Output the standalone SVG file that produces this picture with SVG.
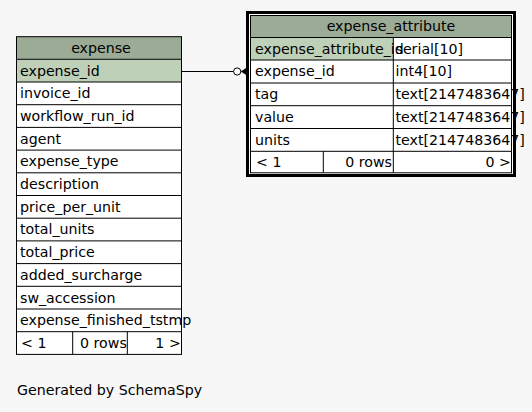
<svg xmlns="http://www.w3.org/2000/svg" width="532" height="412" viewBox="0 0 532 412">
<style>
text{font-family:"DejaVu Sans","Liberation Sans",sans-serif;font-size:14.2px;fill:#000}
.hd{fill:#9bab96}
.pk{fill:#bed1b8}
.wt{fill:#ffffff}
.ln{stroke:#000;stroke-width:1;fill:none}
.mid{text-anchor:middle}
.end{text-anchor:end}
</style>
<rect width="532" height="412" fill="#f7f7f7"/>
<g id="connectors">
<line x1="182" y1="71.5" x2="233.6" y2="71.5" stroke="#000" stroke-width="1"/>
<circle cx="237.2" cy="71.5" r="3.6" fill="#fff" stroke="#000" stroke-width="1"/>
<polygon points="241,71.5 246.5,67.8 246.5,75.2" fill="#000"/>
<line x1="240.8" y1="71.5" x2="247" y2="71.5" stroke="#000" stroke-width="1.2"/>
</g>
<g id="expense">
<rect class="hd" x="16.5" y="36.7" width="165" height="22.6"/>
<rect class="pk" x="16.5" y="59.3" width="165" height="22.7"/>
<rect class="wt" x="16.5" y="82" width="165" height="272.4"/>
<rect class="ln" x="16.5" y="36.7" width="165" height="317.7"/>
<path class="ln" d="M16.5 59.3H181.5M16.5 82H181.5M16.5 104.7H181.5M16.5 127.4H181.5M16.5 150.1H181.5M16.5 172.8H181.5M16.5 195.5H181.5M16.5 218.2H181.5M16.5 240.9H181.5M16.5 263.6H181.5M16.5 286.3H181.5M16.5 309H181.5M16.5 331.7H181.5M72.7 331.7V354.4M127.3 331.7V354.4"/>
<text class="mid" x="101" y="52.5">expense</text>
<text x="20" y="75.5">expense_id</text>
<text x="20" y="98.2">invoice_id</text>
<text x="20" y="120.9">workflow_run_id</text>
<text x="20" y="143.6">agent</text>
<text x="20" y="166.3">expense_type</text>
<text x="20" y="189">description</text>
<text x="20" y="211.7">price_per_unit</text>
<text x="20" y="234.4">total_units</text>
<text x="20" y="257.1">total_price</text>
<text x="20" y="279.8">added_surcharge</text>
<text x="20" y="302.5">sw_accession</text>
<text x="20" y="325.2">expense_finished_tstmp</text>
<text x="21" y="347.9">&lt; 1</text>
<text class="end" x="126.8" y="347.9">0 rows</text>
<text class="end" x="180.8" y="347.9">1 &gt;</text>
</g>
<g id="expense_attribute">
<rect x="247.5" y="12.5" width="267" height="163" fill="#fff" stroke="#000" stroke-width="3"/>
<rect class="hd" x="250.5" y="15.5" width="261" height="22"/>
<rect class="pk" x="250.5" y="37.5" width="142.8" height="22.5"/>
<rect class="ln" x="250.5" y="15.5" width="261" height="157.3"/>
<path class="ln" d="M250.5 37.5H511.5M250.5 60H511.5M250.5 83H511.5M250.5 105.7H511.5M250.5 128.5H511.5M250.5 151.3H511.5M393.3 37.5V172.8M323.3 151.3V172.8"/>
<text class="mid" x="391" y="30.5">expense_attribute</text>
<text x="255" y="53.5">expense_attribute_id</text>
<text x="395.5" y="53.5">serial[10]</text>
<text x="255" y="76.3">expense_id</text>
<text x="395.5" y="76.3">int4[10]</text>
<text x="255" y="99.2">tag</text>
<text x="395.5" y="99.2">text[2147483647]</text>
<text x="255" y="121.9">value</text>
<text x="395.5" y="121.9">text[2147483647]</text>
<text x="255" y="144.7">units</text>
<text x="395.5" y="144.7">text[2147483647]</text>
<text x="256" y="166.8">&lt; 1</text>
<text class="end" x="392" y="166.8">0 rows</text>
<text class="end" x="511" y="166.8">0 &gt;</text>
</g>
<text x="17" y="394.5">Generated by SchemaSpy</text>
</svg>
